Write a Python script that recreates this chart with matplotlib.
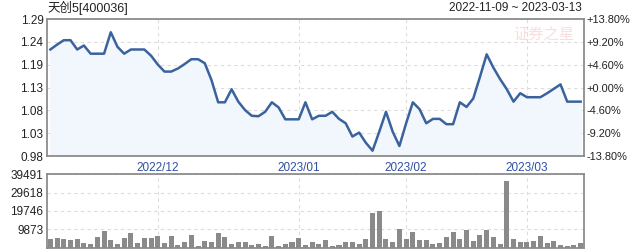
import matplotlib
matplotlib.use("Agg")
import matplotlib.pyplot as plt
import numpy as np

plt.rcParams['font.family'] = ['Liberation Sans', 'Noto Sans CJK SC', 'DejaVu Sans']

title = "天创5[400036]"
date_range = "2022-11-09 ~ 2023-03-13"
watermark = "证券之星"

price = [1.221, 1.232, 1.242, 1.242, 1.221, 1.230, 1.2115, 1.2115, 1.2115, 1.260,
         1.227, 1.2115, 1.221, 1.221, 1.221, 1.207, 1.187, 1.171, 1.171, 1.178,
         1.188, 1.199, 1.199, 1.190, 1.152, 1.1015, 1.1015, 1.131, 1.103, 1.084,
         1.071, 1.070, 1.080, 1.1015, 1.090, 1.063, 1.063, 1.063, 1.1015, 1.063,
         1.071, 1.071, 1.080, 1.064, 1.054, 1.024, 1.033, 1.010, 0.992, 1.035,
         1.080, 1.035, 1.0026, 1.054, 1.1015, 1.086, 1.054, 1.064, 1.064, 1.052,
         1.052, 1.1015, 1.091, 1.110, 1.159, 1.210, 1.180, 1.154, 1.131, 1.103,
         1.122, 1.113, 1.113, 1.113, 1.122, 1.132, 1.142, 1.103, 1.103, 1.103]

volume = [4586, 5125, 4586, 4046, 4586, 2428, 1888, 5665, 8902, 4046,
          1888, 5125, 7823, 2428, 5125, 5125, 6204, 2428, 6204, 1349,
          2967, 6744, 809, 3507, 2967, 7823, 5665, 1888, 2967, 2967,
          1349, 1888, 809, 6204, 809, 1888, 2967, 5125, 1349, 2967,
          1888, 4046, 809, 1349, 2967, 2967, 1888, 4586, 18613, 19692,
          4586, 2967, 9981, 4586, 8362, 4046, 4046, 1888, 2428, 5665,
          8362, 4586, 9441, 3507, 6744, 9441, 5665, 1888, 35877, 4586,
          2967, 2967, 3507, 6204, 2428, 3507, 1349, 809, 1349, 2428]

month_labels = ["2022/12", "2023/01", "2023/02", "2023/03"]
month_start_idx = [16, 37, 53, 71]

price_min, price_max = 0.98, 1.29
price_tick_labels = ["0.98", "1.03", "1.08", "1.13", "1.19", "1.24", "1.29"]
pct_tick_labels = ["-13.80%", "-9.20%", "-4.60%", "+0.00%", "+4.60%", "+9.20%", "+13.80%"]
vol_max = 39491
vol_tick_labels = ["9873", "19746", "29618", "39491"]

W, H = 630, 250
fig = plt.figure(figsize=(W / 100, H / 100), dpi=100)
fig.patch.set_facecolor('white')

left, right = 47, 584
ax = fig.add_axes([left / W, 1 - 156 / H, (right - left) / W, 137 / H])
axv = fig.add_axes([left / W, 1 - 247.5 / H, (right - left) / W, 73.2 / H])

x = np.arange(len(price))
xlim = (-0.5, len(price) - 0.5)

line_color = '#3a639e'
grid_kw = dict(color='#dcdcdc', linestyle=(0, (3, 3)), linewidth=0.8)
spine_color = '#8c8c8c'
text_color = '#222222'
fs = 8.5

# price panel
ax.fill_between(x, price, price_min, color='#f2f7fd', zorder=1)
ax.plot(x, price, color=line_color, linewidth=1.8, zorder=3, solid_joinstyle='round')
ax.set_xlim(*xlim)
ax.set_ylim(price_min, price_max)
pticks = np.linspace(price_min, price_max, len(price_tick_labels))
ax.set_yticks(pticks)
ax.set_yticklabels(price_tick_labels)
ax.set_xticks(month_start_idx)
ax.set_xticklabels(month_labels)
ax.tick_params(axis='y', length=0, pad=2.5, labelsize=fs, labelcolor=text_color)
ax.tick_params(axis='x', length=0, pad=4, labelsize=fs, labelcolor='#2f4f9f')
ax.grid(True, **grid_kw)
ax.set_axisbelow(True)
for s in ax.spines.values():
    s.set_color(spine_color)
    s.set_linewidth(1.3)

ax2 = ax.twinx()
ax2.set_ylim(price_min, price_max)
ax2.set_yticks(pticks)
ax2.set_yticklabels(pct_tick_labels)
ax2.tick_params(axis='y', length=0, pad=1.5, labelsize=7.9, labelcolor=text_color)
for s in ax2.spines.values():
    s.set_visible(False)

# volume panel
axv.bar(x, volume, width=0.75, color='#8a8a8a', zorder=3)
axv.set_xlim(*xlim)
axv.set_ylim(0, vol_max)
axv.set_yticks(np.linspace(0, vol_max, len(vol_tick_labels) + 1)[1:])
axv.set_yticklabels(vol_tick_labels)
axv.set_xticks(month_start_idx)
axv.set_xticklabels([])
axv.tick_params(axis='y', length=0, pad=2.5, labelsize=fs, labelcolor=text_color)
axv.tick_params(axis='x', length=0)
axv.grid(True, **grid_kw)
axv.set_axisbelow(True)
for s in axv.spines.values():
    s.set_color(spine_color)
    s.set_linewidth(1.3)

fig.text(left / W, 1 - 8 / H, title, ha='left', va='center', fontsize=9, color=text_color)
fig.text(582 / W, 1 - 8 / H, date_range, ha='right', va='center', fontsize=fs, color=text_color)
fig.text(544 / W, 1 - 35 / H, watermark, ha='center', va='center', fontsize=11,
         color='#f4b4b4', alpha=0.45, style='italic')

fig.savefig('out.png', dpi=100, facecolor='white')
